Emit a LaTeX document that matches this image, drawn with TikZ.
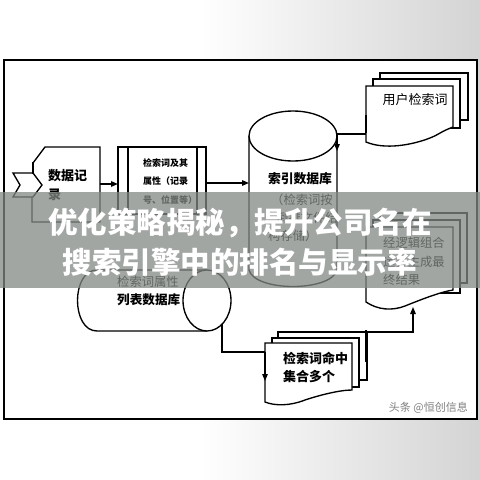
\documentclass[tikz,border=0pt]{standalone}
\usepackage{fontspec}
\newfontfamily\cjk{Noto Sans CJK SC}
\usetikzlibrary{arrows.meta}
\definecolor{bandc}{RGB}{131,137,133}
\begin{document}
\begin{tikzpicture}[x=1pt,y=-1pt,line join=miter]
\tikzset{
  ln/.style={draw=black,line width=1.35pt},
  thk/.style={draw=black,line width=2.8pt},
  arr/.style={draw=black,line width=1.35pt,-{Triangle[length=7pt,width=5.5pt]}},
  lbl/.style={font=\cjk\bfseries\fontsize{13}{15}\selectfont,text=black,inner sep=0pt},
  song/.style={font=\cjk\fontsize{12.3}{14}\selectfont,text=black,inner sep=0pt},
  tiny/.style={font=\cjk\bfseries\fontsize{9}{11}\selectfont,text=black,inner sep=0pt},
  ttl/.style={font=\cjk\bfseries\fontsize{29.5}{33}\selectfont,text=white,inner sep=0pt},
}
\useasboundingbox (0,0) rectangle (480,480);
% background
\fill[white] (0,0) rectangle (480,480);
\shade[left color=white,right color=black!17] (200,0) rectangle (480,480);
% frame
\draw[line width=1.8pt,fill=white] (4,60) rectangle (477,419);

% ---- data record
\draw[ln,fill=white] (45,147) -- (100,147) -- (100,222) -- (32,222) -- (32,197) -- (33,173) -- (33,163) -- cycle;
\draw[ln,fill=white] (13,173) -- (33,173) -- (42,185) -- (33,197) -- (13,197) -- (20,185) -- cycle;
\draw[thk] (33,162) -- (33,174);
\node[lbl,anchor=west] (rec1) at (48,176) {数据记};
\node[lbl,anchor=west] (rec2) at (48,195) {录};
\coordinate (recE) at (100,184);

% ---- attribute box
\draw[ln,fill=white] (118,147) rectangle (206,214);
\draw[ln] (128,147) -- (128,214);
\draw[ln] (197,147) -- (197,214);
\node[tiny,anchor=west] (at1) at (143,163) {检索词及其};
\node[tiny,anchor=west] (at2) at (143,181) {属性（记录};
\node[tiny,anchor=west] (at3) at (143,200) {号、位置等）};
\coordinate (boxW) at (118,184);
\coordinate (boxE) at (206,183);

% ---- index database cylinder
\draw[ln,fill=white] (249,136) -- (249,270) .. controls (255,292) and (331,292) .. (337,270) -- (337,136);
\draw[ln,fill=white] (293,136) ellipse [x radius=44,y radius=25];
\node[lbl,font=\cjk\bfseries\fontsize{12.8}{15}\selectfont] (db1) at (300,179) {索引数据库};
\node[song,anchor=west] (db2) at (271,200) {（检索词按};
\node[song,anchor=west] (db3) at (276,218) {倒排文件结};
\node[song,anchor=west] (db4) at (268,236) {构存储）};
\coordinate (cylW) at (249,183);
\coordinate (cylR) at (337,134);
\coordinate (cylIn) at (337,151);

% ---- user query document stack
\draw[ln,fill=white] (380,73) rectangle (468,120);
\draw[ln,fill=white] (373,79) rectangle (460,128);
\draw[ln,fill=white] (366,86) -- (453,86) -- (453,127)
  .. controls (440,132) and (440,134) .. (430,138)
  .. controls (412,145) and (385,150) .. (366,142) -- cycle;
\draw[thk] (366,115) -- (366,133);
\node[song,font=\cjk\fontsize{13}{15}\selectfont] (uq) at (415,100) {用户检索词};
\coordinate (uqW) at (366,134);

% ---- result document stack
\draw[ln,fill=white] (380,213) rectangle (467,283);
\draw[ln,fill=white] (373,220) rectangle (460,293);
\draw[ln,fill=white] (366,227) -- (453,227) -- (453,290)
  .. controls (440,292) and (420,300) .. (405,306)
  .. controls (392,311) and (378,310) .. (366,302) -- cycle;
\node[song,anchor=west] (rs1) at (383,243) {经逻辑组合};
\node[song,anchor=west] (rs2) at (383,262) {运算生成最};
\node[song,anchor=west] (rs3) at (383,280) {终结果};
\coordinate (rsB) at (413,307);

% ---- attribute list database (horizontal cylinder)
\draw[ln,fill=white] (207,270) -- (97,270) .. controls (71,270) and (71,331) .. (97,331) -- (207,331);
\draw[ln,fill=white] (207,300.5) ellipse [x radius=24,y radius=30.5];
\node[song,anchor=west] (al1) at (117,282) {检索词属性};
\node[lbl,font=\cjk\bfseries\fontsize{12.6}{15}\selectfont,anchor=west] (al2) at (117,300) {列表数据库};
\coordinate (alOut) at (222,323.5);

% ---- hit set document stack
\draw[ln,fill=white] (278,332) rectangle (367,380);
\draw[ln,fill=white] (272,338) rectangle (359,387);
\draw[ln,fill=white] (265,343) -- (352,343) -- (352,390)
  .. controls (340,390) and (320,395) .. (305,400)
  .. controls (290,406) and (275,406) .. (265,402) -- cycle;
\draw[thk] (366,330) -- (366,362);
\node[lbl,anchor=west] (hs1) at (283,358) {检索词命中};
\node[lbl,anchor=west] (hs2) at (283,377) {集合多个};
\coordinate (hsL) at (265,352);
\coordinate (hsLd) at (265,381);
\coordinate (hsR) at (366,332);

% ---- connectors
\draw[arr] (recE) -- (boxW);
\draw[arr] (boxE) -- (cylW);
\draw[arr] (uqW) -- (cylR) -- (cylIn);
\draw[ln] (alOut) |- (hsL);
\draw[arr] (hsL) -- (hsLd);
\draw[arr] (hsR) -| (rsB);

% ---- watermark
\node[font=\cjk\fontsize{11}{13}\selectfont,text=black!50,anchor=east,inner sep=0pt] (wm) at (468,408) {头条 @恒创信息};

% ---- title band
\fill[bandc,opacity=0.75] (0,192) rectangle (480,288);
\node[ttl] (t1) at (240,223) {优化策略揭秘，提升公司名在};
\node[ttl] (t2) at (240,262) {搜索引擎中的排名与显示率};
\end{tikzpicture}
\end{document}
